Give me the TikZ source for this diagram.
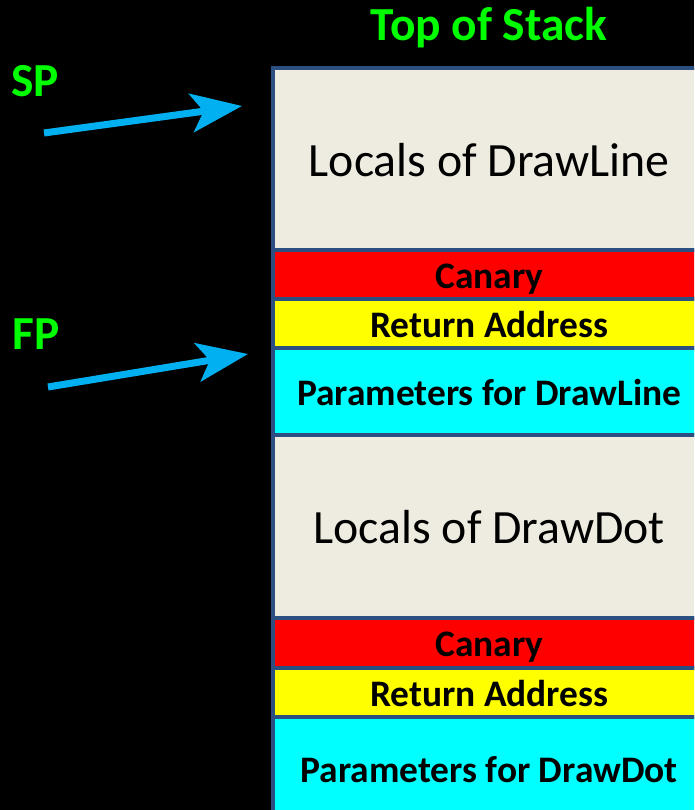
\documentclass[tikz,border=0pt]{standalone}
\usepackage{fontspec}
\setmainfont{Carlito}
\usepackage{xcolor}
\usepackage{tikz}
\usetikzlibrary{positioning}
\usetikzlibrary{arrows.meta}

\definecolor{stackbg}{HTML}{EEECE1}
\definecolor{stackline}{HTML}{2B4F80}
\definecolor{regreen}{RGB}{0,255,0}
\definecolor{ptrblue}{HTML}{00B0F0}
\definecolor{canred}{RGB}{255,0,0}
\definecolor{retyellow}{RGB}{255,255,0}
\definecolor{parcyan}{RGB}{0,255,255}

\begin{document}
\begin{tikzpicture}
  [
    x=0.02cm, y=-0.02cm,
    cell/.style={
      draw=stackline,
      line width=2.3pt,
      minimum width=8.67cm,
      inner sep=0pt,
      outer sep=0pt,
      text depth=0pt,
      text=black
    },
    frame/.style={cell, fill=stackbg, text height=19.8pt, font=\fontsize{27.2}{33}\selectfont},
    slot/.style={cell, text height=16pt, font=\fontsize{21.3}{25}\selectfont\bfseries},
    canary/.style={slot, fill=canred},
    retaddr/.style={slot, fill=retyellow},
    params/.style={slot, fill=parcyan},
    reg/.style={text=regreen, text height=17.4pt, text depth=0pt, inner sep=0pt,
      font=\fontsize{27}{32}\selectfont\bfseries},
    ptr/.style={draw=ptrblue, line width=4pt, -{Stealth[length=29pt,width=22pt,inset=7pt]}}
  ]
  \clip (0,0) rectangle (694,810);
  \fill [black] (0,0) rectangle (694,810);

  \node (locline) at (489.25,159) [frame, minimum height=3.64cm] {Locals of DrawLine};
  \node (canline) [canary,  below=0pt of locline, minimum height=0.98cm] {Canary};
  \node (retline) [retaddr, below=0pt of canline, minimum height=0.98cm] {Return Address};
  \node (parline) [params,  below=0pt of retline, minimum height=1.74cm] {Parameters for DrawLine};
  \node (locdot)  [frame,   below=0pt of parline, minimum height=3.66cm] {Locals of DrawDot};
  \node (candot)  [canary,  below=0pt of locdot,  minimum height=1.00cm] {Canary};
  \node (retdot)  [retaddr, below=0pt of candot,  minimum height=0.98cm] {Return Address};
  \node (pardot)  [params,  below=0pt of retdot,  minimum height=2.06cm] {Parameters for DrawDot};

  \node (top) at (489,25)     [reg] {Top of Stack};
  \node (sp)  at (35,81)      [reg] {SP};
  \node (fp)  at (36.5,334.5) [reg] {FP};

  \coordinate (sptail) at (44,133);
  \coordinate (sphead) at (242,106);
  \coordinate (fptail) at (48,387);
  \coordinate (fphead) at (248,354);
  \draw [ptr] (sptail) -- (sphead);
  \draw [ptr] (fptail) -- (fphead);
\end{tikzpicture}
\end{document}
